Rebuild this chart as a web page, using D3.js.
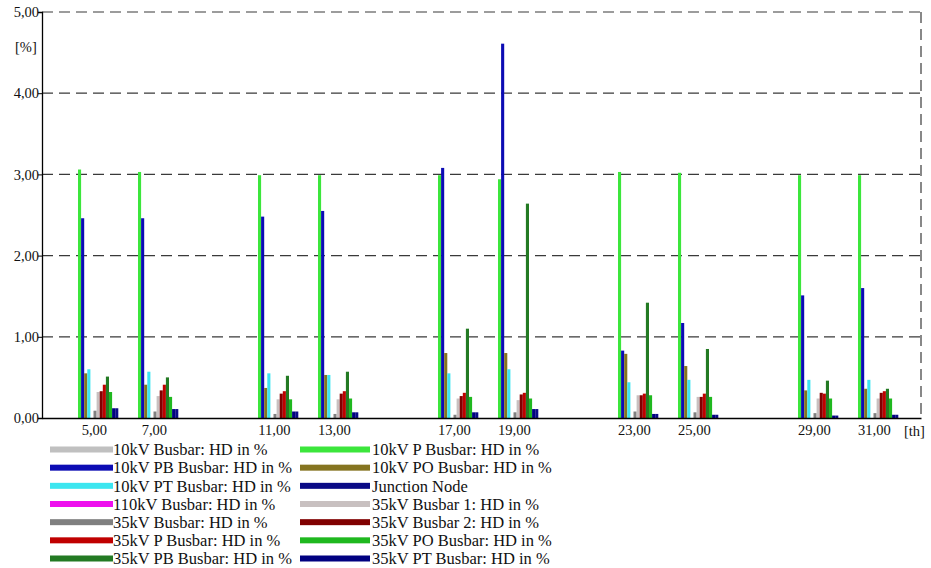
<!DOCTYPE html>
<html>
<head>
<meta charset="utf-8">
<script src="https://cdn.jsdelivr.net/npm/d3@7"></script>
<style>
html,body{margin:0;padding:0;background:#fff;}
svg{display:block;}
</style>
</head>
<body>
<svg id="chart" width="931" height="568"></svg>
<script>
// ---- data ----
const harmonics = [5, 7, 11, 13, 17, 19, 23, 25, 29, 31];
const yTicks = [0, 1, 2, 3, 4, 5];
const seriesNames = [
  "10kV Busbar: HD in %",
  "10kV P Busbar: HD in %",
  "10kV PB Busbar: HD in %",
  "10kV PO Busbar: HD in %",
  "10kV PT Busbar: HD in %",
  "110kV Busbar: HD in %",
  "35kV Busbar: HD in %",
  "35kV Busbar 1: HD in %",
  "35kV Busbar 2: HD in %",
  "35kV P Busbar: HD in %",
  "35kV PB Busbar: HD in %",
  "35kV PO Busbar: HD in %",
  "35kV PT Busbar: HD in %",
  "Junction Node"
];
const seriesColors = [
  "#c0c0c0", "#3ce63c", "#0c0cb4", "#857420", "#3ce6f0", "#ee10ee", "#808080",
  "#c8c0c0", "#800000", "#c00000", "#237a23", "#1fb81f", "#000080", "#0a0a86"
];
const v10kV      = [0, 0, 0, 0, 0, 0, 0, 0, 0, 0];
const v10kVP     = [3.06, 3.03, 2.99, 2.99, 2.99, 2.94, 3.03, 3.02, 2.99, 2.99];
const v10kVPB    = [2.46, 2.46, 2.48, 2.55, 3.08, 4.61, 0.83, 1.17, 1.51, 1.60];
const v10kVPO    = [0.55, 0.41, 0.37, 0.53, 0.80, 0.80, 0.79, 0.64, 0.34, 0.36];
const v10kVPT    = [0.60, 0.57, 0.55, 0.53, 0.55, 0.60, 0.44, 0.47, 0.47, 0.47];
const v110kV     = [0, 0, 0, 0, 0, 0, 0, 0, 0, 0];
const v35kV      = [0.09, 0.08, 0.05, 0.05, 0.04, 0.07, 0.08, 0.07, 0.06, 0.06];
const v35kV1     = [0.32, 0.27, 0.23, 0.23, 0.24, 0.22, 0.28, 0.26, 0.24, 0.24];
const v35kV2     = [0.33, 0.34, 0.30, 0.30, 0.27, 0.29, 0.28, 0.26, 0.31, 0.31];
const v35kVP     = [0.41, 0.41, 0.33, 0.33, 0.31, 0.31, 0.30, 0.30, 0.30, 0.33];
const v35kVPB    = [0.51, 0.50, 0.52, 0.57, 1.10, 2.64, 1.42, 0.85, 0.46, 0.36];
const v35kVPO    = [0.32, 0.26, 0.23, 0.24, 0.26, 0.24, 0.28, 0.26, 0.24, 0.24];
const v35kVPT    = [0.12, 0.11, 0.08, 0.07, 0.07, 0.11, 0.05, 0.04, 0.03, 0.04];
const vJunction  = [0.12, 0.11, 0.08, 0.07, 0.07, 0.11, 0.05, 0.04, 0.03, 0.04];
const seriesValues = [v10kV, v10kVP, v10kVPB, v10kVPO, v10kVPT, v110kV, v35kV,
  v35kV1, v35kV2, v35kVP, v35kVPB, v35kVPO, v35kVPT, vJunction];
// legend rows: [left, right] series indices
const legendRows = [[0, 1], [2, 3], [4, 13], [5, 7], [6, 8], [9, 11], [10, 12]];

// ---- layout ----
const FONT = "'Liberation Serif', 'Times New Roman', serif";
const svg = d3.select("#chart");
const pLeft = 42, pRight = 921, pTop = 12, pBottom = 418;
const x = d3.scaleLinear().domain([3.27, 32.57]).range([pLeft, pRight]);
const y = d3.scaleLinear().domain([0, 5]).range([pBottom, pTop]);
const band = d3.scaleBand().domain(d3.range(seriesNames.length)).range([-19, -19 + 3.1 * seriesNames.length]).padding(0);

// grid
svg.append("g").selectAll("line").data(yTicks.filter(d => d > 0)).join("line")
  .attr("x1", pLeft).attr("x2", pRight)
  .attr("y1", d => y(d)).attr("y2", d => y(d))
  .attr("stroke", "#3a3a3a").attr("stroke-width", 1.2).attr("stroke-dasharray", "11,6");
svg.append("line").attr("x1", pRight).attr("x2", pRight).attr("y1", pTop).attr("y2", pBottom)
  .attr("stroke", "#3a3a3a").attr("stroke-width", 1.2).attr("stroke-dasharray", "11,6");

// bars
const groups = svg.append("g").selectAll("g").data(seriesNames.map((n, i) => i)).join("g")
  .attr("fill", i => seriesColors[i]);
groups.selectAll("rect").data(i => harmonics.map((h, j) => ({h, v: seriesValues[i][j], i})))
  .join("rect")
  .attr("x", d => x(d.h) + band(d.i))
  .attr("width", band.bandwidth())
  .attr("y", d => y(d.v))
  .attr("height", d => y(0) - y(d.v));

// axes
const fmt = d => d3.format(".2f")(d).replace(".", ",");
const yAxis = d3.axisLeft(y).tickValues(yTicks).tickSize(4).tickFormat(fmt);
const gy = svg.append("g").attr("transform", `translate(${pLeft},0)`).call(yAxis);
gy.select(".domain").attr("stroke", "#000").attr("stroke-width", 1.3);
gy.selectAll("text").style("font-family", FONT).style("font-size", "14.5px").attr("fill", "#111").attr("x", -3).attr("dy", "0.32em");
gy.selectAll(".tick line").attr("stroke", "#000");

const xAxis = d3.axisBottom(x).tickValues(harmonics).tickSize(0).tickFormat(fmt);
const gx = svg.append("g").attr("transform", `translate(0,${pBottom})`).call(xAxis);
gx.select(".domain").attr("stroke", "#000").attr("stroke-width", 1.3);
gx.selectAll("text").style("font-family", FONT).style("font-size", "14.5px").attr("fill", "#111").attr("y", 7).attr("dy", "0.71em");

// unit labels
svg.append("text").attr("x", 15).attr("y", 52).style("font-family", FONT).style("font-size", "14.5px").attr("fill", "#111").text("[%]");
svg.append("text").attr("x", 904).attr("y", 436).style("font-family", FONT).style("font-size", "14.5px").attr("fill", "#111").text("[th]");

// legend
const rowY = d3.scaleLinear().domain([0, 6]).range([449.5, 558.5]);
const cols = [{sx: 50, sw: 63, tx: 113}, {sx: 300, sw: 70, tx: 372}];
const lg = svg.append("g");
legendRows.forEach((row, r) => {
  row.forEach((si, c) => {
    const col = cols[c];
    lg.append("rect").attr("x", col.sx).attr("y", rowY(r) - 3).attr("width", col.sw).attr("height", 6)
      .attr("fill", seriesColors[si]);
    lg.append("text").attr("x", col.tx).attr("y", rowY(r)).attr("dy", "0.35em")
      .style("font-family", FONT).style("font-size", "16.5px").attr("fill", "#111").text(seriesNames[si]);
  });
});
</script>
</body>
</html>
